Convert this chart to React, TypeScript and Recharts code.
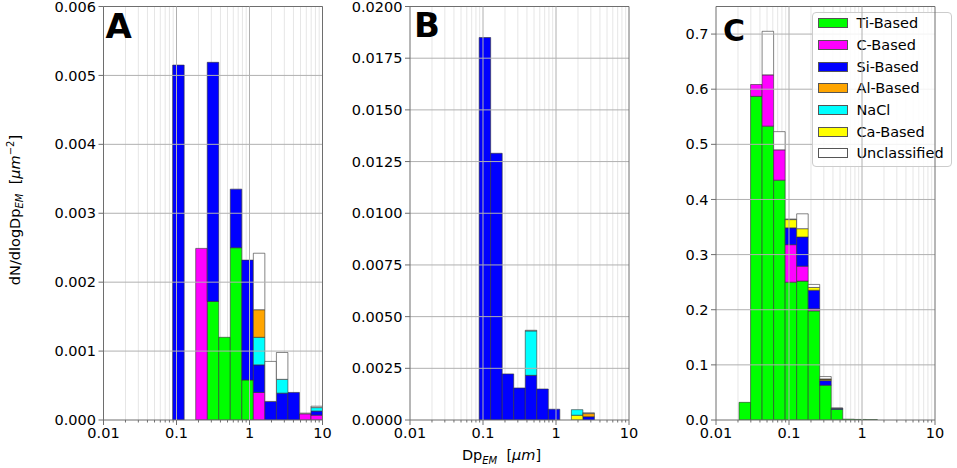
import React from "react";
import {
  ComposedChart,
  Bar,
  XAxis,
  YAxis,
  ReferenceLine,
  Legend,
  Label,
} from "recharts";

const FONT = "DejaVu Sans";
const SPINE = "#6e6e6e";
const GRID = "#b0b0b0";
const GRID_MINOR = "#e6e6e6";
const W = 957;
const H = 468;
const PLOT_W = 219;
const PLOT_TOP = 6.5;
const PLOT_BOTTOM = 420;
const Y_AXIS_W = 60;
const X_AXIS_H = 30;

// geometric centres of the 19 log-spaced size bins (0.01 - 10 um)
const BIN_CENTERS = [
  0.011993, 0.017252, 0.024816, 0.035696, 0.051349, 0.073862, 0.10625,
  0.15284, 0.21985, 0.31623, 0.45488, 0.65431, 0.94121, 1.3539, 1.9475,
  2.8013, 4.0295, 5.7963, 8.3377,
];

const X_MAJOR = [0.01, 0.1, 1, 10];
const X_MAJOR_LABELS = ["0.01", "0.1", "1", "10"];
const X_MINOR = [
  0.02, 0.03, 0.04, 0.05, 0.06, 0.07, 0.08, 0.09, 0.2, 0.3, 0.4, 0.5, 0.6,
  0.7, 0.8, 0.9, 2, 3, 4, 5, 6, 7, 8, 9,
];

const A_YTICKS = [0, 0.001, 0.002, 0.003, 0.004, 0.005, 0.006];
const B_YTICKS = [0, 0.0025, 0.005, 0.0075, 0.01, 0.0125, 0.015, 0.0175, 0.02];
const C_YTICKS = [0, 0.1, 0.2, 0.3, 0.4, 0.5, 0.6, 0.7];

const NONE = [0, 0, 0, 0, 0, 0, 0, 0, 0, 0, 0, 0, 0, 0, 0, 0, 0, 0, 0];

// panel A
const A_TI = [0, 0, 0, 0, 0, 0, 0, 0, 0, 0.00172, 0.0012, 0.0025, 0.00058, 0, 0, 0, 0, 0, 0];
const A_C = [0, 0, 0, 0, 0, 0, 0, 0, 0.00249, 0, 0, 0, 0, 0.0004, 0, 0, 0, 0.00009, 0.00007];
const A_SI = [0, 0, 0, 0, 0, 0, 0.00515, 0, 0, 0.00347, 0, 0.00085, 0.00174, 0.0004, 0.00027, 0.00039, 0.0004, 0, 0.00006];
const A_NACL = [0, 0, 0, 0, 0, 0, 0, 0, 0, 0, 0, 0, 0, 0.0004, 0, 0.0002, 0, 0, 0.00005];
const A_AL = [0, 0, 0, 0, 0, 0, 0, 0, 0, 0, 0, 0, 0, 0.0004, 0, 0, 0, 0, 0];
const A_UNCL = [0, 0, 0, 0, 0, 0, 0, 0, 0, 0, 0, 0, 0, 0.00082, 0.00058, 0.00039, 0, 0.00001, 0.00002];

// panel B
const B_SI = [0, 0, 0, 0, 0, 0, 0.0185, 0.0129, 0.00223, 0.00155, 0.00216, 0.0015, 0.00052, 0, 0, 0.00016, 0, 0, 0];
const B_CA = [0, 0, 0, 0, 0, 0, 0, 0, 0, 0, 0, 0, 0, 0, 0.00023, 0, 0, 0, 0];
const B_NACL = [0, 0, 0, 0, 0, 0, 0, 0, 0, 0, 0.00215, 0, 0, 0, 0.00027, 0, 0, 0, 0];
const B_AL = [0, 0, 0, 0, 0, 0, 0, 0, 0, 0, 0, 0, 0, 0, 0, 0.00015, 0, 0, 0];
const B_UNCL = [0, 0, 0, 0, 0, 0, 0, 0, 0, 0, 0.00003, 0, 0, 0, 0, 0.00004, 0, 0, 0];

// panel C
const C_TI = [0, 0, 0.032, 0.587, 0.533, 0.435, 0.25, 0.252, 0.198, 0.063, 0.0194, 0.0015, 0.001, 0.0008, 0, 0, 0, 0, 0];
const C_C = [0, 0, 0, 0.0215, 0.093, 0.055, 0.068, 0.027, 0.0037, 0, 0, 0, 0, 0, 0, 0, 0, 0, 0];
const C_SI = [0, 0, 0, 0, 0, 0, 0.0305, 0.053, 0.0337, 0.0085, 0.0018, 0, 0, 0, 0, 0, 0, 0, 0];
const C_CA = [0, 0, 0, 0, 0, 0, 0.015, 0.015, 0.005, 0.002, 0, 0, 0, 0, 0, 0, 0, 0, 0];
const C_AL = [0, 0, 0, 0, 0, 0, 0, 0, 0, 0.001, 0, 0, 0, 0, 0, 0, 0, 0, 0];
const C_UNCL = [0, 0, 0, 0, 0.079, 0.033, 0.001, 0.027, 0.0055, 0.0043, 0.0005, 0, 0, 0, 0, 0, 0, 0, 0];

// stacking order (bottom to top)
const STACK = [
  { key: "ti", name: "Ti-Based", color: "#00ff00" },
  { key: "c", name: "C-Based", color: "#ff00ff" },
  { key: "si", name: "Si-Based", color: "#0000ff" },
  { key: "ca", name: "Ca-Based", color: "#ffff00" },
  { key: "nacl", name: "NaCl", color: "#00ffff" },
  { key: "al", name: "Al-Based", color: "#ffa500" },
  { key: "uncl", name: "Unclassified", color: "#ffffff" },
];
const LEGEND_ORDER = ["ti", "c", "si", "al", "nacl", "ca", "uncl"];

// the size axis is drawn on log10(Dp)
const lg = (v: number) => Math.log10(v);
const X_TICK_POS = [...X_MAJOR, ...X_MINOR].map(lg);

type Row = Record<string, number>;

const makeRows = (series: Record<string, number[]>): Row[] =>
  BIN_CENTERS.map((dp, i) => {
    const row: Row = { dp, lx: lg(dp) };
    STACK.forEach((s) => {
      row[s.key] = series[s.key][i];
    });
    return row;
  });

const rowsA = makeRows({ ti: A_TI, c: A_C, si: A_SI, ca: NONE, nacl: A_NACL, al: A_AL, uncl: A_UNCL });
const rowsB = makeRows({ ti: NONE, c: NONE, si: B_SI, ca: B_CA, nacl: B_NACL, al: B_AL, uncl: B_UNCL });
const rowsC = makeRows({ ti: C_TI, c: C_C, si: C_SI, ca: C_CA, nacl: NONE, al: C_AL, uncl: C_UNCL });

const LogTick = (props: any) => {
  const { x, y, payload } = props;
  const i = X_MAJOR.findIndex((m) => Math.abs(lg(m) - payload.value) < 1e-9);
  const major = i >= 0;
  return (
    <g>
      <line x1={x} x2={x} y1={y} y2={y + (major ? 5 : 2.5)} stroke={SPINE} strokeWidth={1} />
      {major && (
        <text x={x} y={y + 17.5} textAnchor="middle" fontFamily={FONT} fontSize={14.5} fill="#000">
          {X_MAJOR_LABELS[i]}
        </text>
      )}
    </g>
  );
};

const YLabelContent = () => {
  const x = 19.5;
  const y = 210;
  return (
    <text
      x={x}
      y={y}
      transform={`rotate(-90 ${x} ${y})`}
      textAnchor="middle"
      fontFamily={FONT}
      fontSize={14.5}
      fill="#000"
      style={{ whiteSpace: "pre" }}
    >
      dN/dlogDp<tspan fontSize={10} fontStyle="italic" dy={3.5}>EM</tspan><tspan dy={-3.5}>{"  ["}</tspan><tspan fontStyle="italic">μm</tspan><tspan fontSize={10} dy={-6}>−2</tspan><tspan dy={6}>]</tspan>
    </text>
  );
};

const XLabelContent = () => (
  <text
    x={501.5}
    y={460}
    textAnchor="middle"
    fontFamily={FONT}
    fontSize={14.5}
    fill="#000"
    style={{ whiteSpace: "pre" }}
  >
    Dp<tspan fontSize={10} fontStyle="italic" dy={3.5}>EM</tspan><tspan dy={-3.5}>{"  ["}</tspan><tspan fontStyle="italic">μm</tspan><tspan>]</tspan>
  </text>
);

const LegendBox = () => (
  <div
    style={{
      width: 140,
      boxSizing: "border-box",
      border: "1px solid #cccccc",
      borderRadius: 4,
      background: "rgba(255,255,255,0.85)",
      padding: "0 0 2px 5px",
      fontFamily: FONT,
      fontSize: 14.5,
    }}
  >
    {LEGEND_ORDER.map((key) => {
      const s = STACK.find((e) => e.key === key)!;
      return (
        <div key={key} style={{ height: 21.7, display: "flex", alignItems: "center" }}>
          <span
            style={{
              display: "inline-block",
              width: 30,
              height: 10,
              background: s.color,
              border: "0.8px solid #555",
              boxSizing: "border-box",
            }}
          />
          <span style={{ marginLeft: 9, color: "#000", lineHeight: "16px" }}>{s.name}</span>
        </div>
      );
    })}
  </div>
);

type PanelProps = {
  rows: Row[];
  left: number;
  yMax: number;
  yTicks: number[];
  yDigits: number;
  letter: string;
  letterDx: number;
  letterBase: number;
  letterSize: number;
  yLabel?: boolean;
  xLabel?: boolean;
  legend?: boolean;
};

const layer: React.CSSProperties = { position: "absolute", left: 0, top: 0 };

function Panel(p: PanelProps) {
  const right = W - p.left - PLOT_W;
  const LetterContent = () => (
    <text
      x={p.left + p.letterDx}
      y={PLOT_TOP + p.letterBase}
      fontFamily={FONT}
      fontWeight="bold"
      fontSize={p.letterSize}
      fill="#000"
    >
      {p.letter}
    </text>
  );
  const hiddenY = (
    <YAxis hide dataKey="ti" type="number" domain={[0, p.yMax]} allowDataOverflow />
  );
  return (
    <>
      {/* log size axis, ticks and minor grid (under the bars) */}
      <div style={layer}>
        <ComposedChart
          width={W}
          height={H}
          data={p.rows}
          margin={{ top: PLOT_TOP, right, bottom: H - PLOT_BOTTOM - X_AXIS_H, left: p.left }}
        >
          <XAxis
            dataKey="lx"
            type="number"
            domain={[-2, 1]}
            allowDataOverflow
            ticks={X_TICK_POS}
            interval={0}
            tick={LogTick}
            tickSize={0}
            tickMargin={0}
            tickLine={false}
            axisLine={false}
            height={X_AXIS_H}
          >
            {p.xLabel && <Label content={XLabelContent} />}
          </XAxis>
          {hiddenY}
          {X_MINOR.map((v) => (
            <ReferenceLine key={`m${v}`} x={lg(v)} stroke={GRID_MINOR} strokeWidth={1} />
          ))}
        </ComposedChart>
      </div>

      {/* stacked size distribution */}
      <div style={layer}>
        <ComposedChart
          width={W}
          height={H}
          data={p.rows}
          margin={{ top: PLOT_TOP, right, bottom: H - PLOT_BOTTOM, left: p.left - Y_AXIS_W }}
        >
          <XAxis dataKey="dp" type="category" hide />
          <YAxis
            type="number"
            domain={[0, p.yMax]}
            allowDataOverflow
            ticks={p.yTicks}
            interval={0}
            width={Y_AXIS_W}
            tickFormatter={(v: number) => v.toFixed(p.yDigits)}
            tick={{ fontSize: 14.5, fill: "#000", fontFamily: FONT }}
            tickSize={5}
            tickMargin={2.5}
            tickLine={{ stroke: SPINE }}
            axisLine={false}
          >
            {p.yLabel && <Label content={YLabelContent} />}
          </YAxis>
          {STACK.map((s) => (
            <Bar
              key={s.key}
              dataKey={s.key}
              name={s.name}
              stackId="dist"
              fill={s.color}
              stroke="#333"
              strokeWidth={0.6}
              barSize={PLOT_W / 19 - 0.02}
              isAnimationActive={false}
            />
          ))}
          {p.yTicks.slice(1).map((v) => (
            <ReferenceLine key={`h${v}`} y={v} stroke={GRID} strokeWidth={1} />
          ))}
          <ReferenceLine y={0} stroke={SPINE} strokeWidth={1} ifOverflow="visible" />
          <ReferenceLine y={p.yMax} stroke={SPINE} strokeWidth={1} ifOverflow="visible" />
          {p.legend && (
            <Legend
              content={LegendBox}
              layout="vertical"
              align="center"
              verticalAlign="middle"
              wrapperStyle={{ left: 811.5, top: 11.5, width: 140 }}
            />
          )}
        </ComposedChart>
      </div>

      {/* major vertical grid, side spines and panel letter (over the bars) */}
      <div style={layer}>
        <ComposedChart
          width={W}
          height={H}
          data={p.rows}
          margin={{ top: PLOT_TOP, right, bottom: H - PLOT_BOTTOM, left: p.left }}
        >
          <XAxis hide dataKey="lx" type="number" domain={[-2, 1]} allowDataOverflow />
          {hiddenY}
          {[0.1, 1].map((v) => (
            <ReferenceLine key={`M${v}`} x={lg(v)} stroke={GRID} strokeWidth={1} />
          ))}
          <ReferenceLine x={-2} stroke={SPINE} strokeWidth={1} ifOverflow="visible" />
          <ReferenceLine
            x={1}
            stroke={SPINE}
            strokeWidth={1}
            ifOverflow="visible"
            label={<Label content={LetterContent} />}
          />
        </ComposedChart>
      </div>
    </>
  );
}

export default function App() {
  return (
    <div style={{ position: "absolute", left: 0, top: 0, width: W, height: H, background: "#fff" }}>
      <Panel
        rows={rowsA}
        left={103.5}
        yMax={0.006}
        yTicks={A_YTICKS}
        yDigits={3}
        letter="A"
        letterDx={2}
        letterBase={31}
        letterSize={34}
        yLabel
      />
      <Panel
        rows={rowsB}
        left={410}
        yMax={0.02}
        yTicks={B_YTICKS}
        yDigits={4}
        letter="B"
        letterDx={4}
        letterBase={30.5}
        letterSize={34}
        xLabel
      />
      <Panel
        rows={rowsC}
        left={716}
        yMax={0.75}
        yTicks={C_YTICKS}
        yDigits={1}
        letter="C"
        letterDx={7}
        letterBase={34.5}
        letterSize={30}
        legend
      />
    </div>
  );
}
